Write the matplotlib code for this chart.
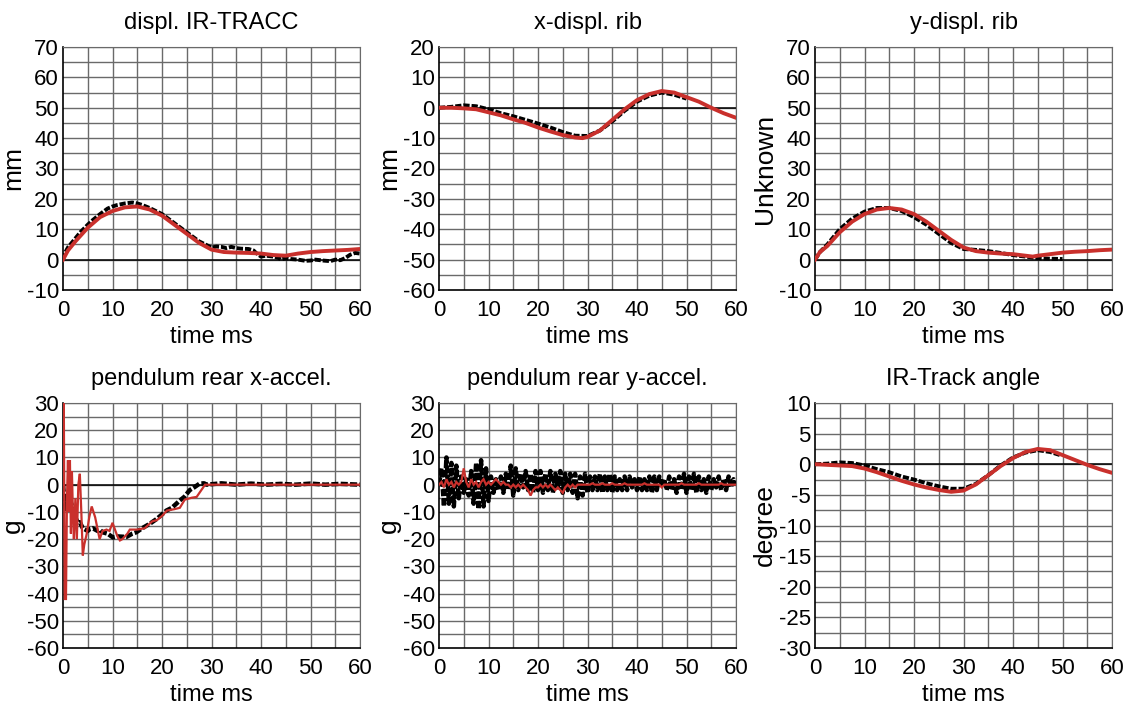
import matplotlib
matplotlib.use("Agg")
import matplotlib.pyplot as plt
import numpy as np

plt.rcParams['font.family'] = ['Liberation Sans', 'DejaVu Sans']
plt.rcParams['axes.unicode_minus'] = False

RED = '#c9302c'
BLACK = '#000000'

# ---------------- data ----------------
# Panel 1: displ. IR-TRACC (mm)
p1_test_t = [0, 0.5, 1, 1.5, 2.5, 3.5, 5, 6, 7.5, 9, 10, 11, 12.5, 14, 15, 16, 17.5, 19, 20, 21, 22.5, 24, 25, 26, 27.5, 29, 30, 31, 32, 33, 34, 35, 36, 37.5, 38.5, 39, 40, 41, 42.5, 43.5, 44, 45, 46, 47.5, 49, 50, 51, 52.5, 54, 55, 56, 57, 58, 59, 60]
p1_test_y = [0, 2.5, 4, 5, 7, 9, 11.5, 13, 15, 16.8, 17.5, 18, 18.5, 18.8, 18.5, 18, 17, 15.8, 15, 13.8, 12, 10.2, 9, 7.8, 6, 4.8, 4, 4.3, 4.2, 3.8, 4.2, 3.8, 3.6, 3.5, 3, 2.2, 1, 1.3, 1, 0.6, 0, 0.5, 0.2, 0, -0.4, -0.3, 0, -0.3, -0.5, 0, -0.2, 0.5, 1.6, 2.2, 2]
p1_sim_t = [0, 1, 2.5, 5, 7.5, 10, 12.5, 15, 17.5, 20, 22.5, 25, 27.5, 30, 32.5, 35, 37.5, 40, 42.5, 45, 47.5, 50, 52.5, 55, 57.5, 60]
p1_sim_y = [0, 3, 6, 10.5, 14, 16, 17.2, 17.5, 16.5, 14.5, 11.5, 8.5, 5.5, 3.3, 2.5, 2.3, 2.2, 2, 1.5, 1.3, 2, 2.5, 2.8, 3.0, 3.2, 3.5]

# Panel 2: x-displ. rib (mm)
p2_test_t = [0, 2.5, 5, 7.5, 10, 12.5, 15, 17.5, 20, 22.5, 25, 27.5, 30, 32.5, 35, 37.5, 40, 42.5, 45, 47.5, 50]
p2_test_y = [0, 0.3, 0.8, 0.5, -0.5, -1.8, -2.8, -4, -5.2, -6.5, -8, -9.2, -9.3, -7.5, -4.5, -1, 2, 4, 5, 4.3, 3.0]
p2_sim_t = [0, 2.5, 5, 7.5, 10, 12.5, 15, 17.5, 20, 22.5, 25, 27.5, 29, 30, 32.5, 35, 37.5, 40, 42.5, 45, 47.5, 50, 52.5, 55, 57.5, 60]
p2_sim_y = [0, 0, -0.2, -0.5, -1.5, -2.5, -3.8, -5, -6.5, -7.8, -9, -9.8, -10, -9.6, -7.5, -4, -0.5, 2.5, 4.5, 5.5, 5, 3.5, 2, 0, -1.8, -3.3]

# Panel 3: y-displ. rib (Unknown)
p3_test_t = [0, 1, 2.5, 5, 7.5, 10, 12.5, 15, 17.5, 20, 22.5, 25, 27.5, 30, 32.5, 35, 37.5, 40, 42.5, 45, 47.5, 50]
p3_test_y = [0, 2.5, 5, 10, 13.5, 15.8, 17, 17, 16, 14, 11.5, 8.5, 5.5, 3.5, 3.2, 2.8, 2.2, 1.5, 1, 0.5, 0.3, 0.2]
p3_sim_t = [0, 1, 2.5, 5, 7.5, 10, 12.5, 15, 17.5, 20, 22.5, 25, 27.5, 30, 32.5, 35, 37.5, 40, 42.5, 44, 45, 47.5, 50, 52.5, 55, 57.5, 60]
p3_sim_y = [0, 2.5, 4.5, 9, 12.5, 15, 16.5, 17, 16.5, 15, 12.5, 9.5, 6.5, 4, 2.8, 2.3, 2, 1.8, 1.3, 1, 1.3, 1.8, 2.3, 2.6, 2.8, 3.1, 3.3]

# Panel 4: pendulum rear x-accel. (g)
p4_test_t = [0, 0.3, 0.6, 1, 1.3, 1.7, 2, 2.5, 3, 3.4, 4, 5, 5.4, 6, 7, 7.4, 8, 9, 10.1, 11, 12.8, 14, 14.8, 16, 17.5, 19, 20.9, 22, 23.6, 24.5, 25.6, 26.5, 27.6, 28.5, 29, 32, 35, 38, 41, 44, 47, 50, 53, 56, 60]
p4_test_y = [0, -6, -9, -5, -9, -7, -11, -12, -14, -13.8, -16, -17, -16.3, -16, -17, -16.5, -17.5, -18, -19.4, -19, -19.2, -18, -17.5, -16, -14.4, -12.5, -9.5, -8.5, -5.8, -4.5, -2, -1, 0.4, 0.5, 0, 0.5, 0, 0.4, 0, 0.3, 0, 0.4, 0, 0.3, 0]
p4_sim_t = [0, 0.15, 0.35, 0.6, 0.8, 1.0, 1.2, 1.4, 1.6, 1.8, 2.0, 2.2, 2.5, 2.8, 3.1, 3.4, 3.7, 4.0, 4.3, 4.8, 5.3, 5.8, 6.5, 7.4, 8, 8.8, 9.4, 10, 11, 11.5, 12, 13, 13.5, 15, 16.5, 18, 19, 20, 21, 22.5, 23.6, 24.6, 26, 27, 28.7, 30, 40, 50, 60]
p4_sim_y = [0, 35, -42, -42, -5, 9, -10, 9, -18, 5, -10, -20, -5, -20, 0, 4, -10, -26, -22, -18, -12, -8, -12, -20, -17, -16.5, -17, -14, -19, -20.5, -20, -18, -16.5, -16.5, -16, -13.5, -13, -11.5, -9.5, -9, -8.5, -5.5, -4.8, -4.5, 0, 0, 0, 0, 0]

# Panel 5: pendulum rear y-accel. (g), sampled every 0.5 ms
p5_t = [i * 0.5 for i in range(121)]
p5_test_y = [0, 6, -8, 10, -7, 8, -8, 7, -5, 3, -3, 2, -4, 5, -7, 8, -9, 9, -8, 6,
             -6, 3, -3, 2, -2, 3, -3, 4, -2, 7, -4, 6, -2, 4, -1, 5, -2, 4, -3, 5,
             -2, 5, -3, 4, -2, 5, -3, 4, -1, 5, -3, 4, -2, 4, -3, 4, -5, 3, -4, 4,
             -3, 3, -2, 3, -2, 4, -3, 3, -2, 4, -3, 3, -2, 2, -2, 3, -2, 3, -1, 2,
             -2, 3, -2, 2, -2, 3, -3, 3, -2, 3, -1, 2, -2, 3, -2, 2, -3, 3, -2, 4,
             -3, 3, -2, 4, -3, 3, -2, 2, -3, 3, -2, 2, -1, 3, -2, 2, -2, 3, -1, 2, 0]
p5_sim_y = [0, 1, -1, 2, 0, 1, -1, 1, 0, 1, 6, 1, -1, 2, 0, 1, -1, 1, 2, 0,
            1, 0, 1, 2, 1, 0, 1, 0, 0, -1, 0, -1, 0, -1, 0, -1, -2, -4, -2, -1,
            -1, 0, -1, 0, -1, 0, -1, -2, -1, -2, -3, -1, 0, -1, 0, -1, 0, 0, 0, 0,
            0, 0, 0.5, 0, 0, 0, 0.5, 0, 0, 0, 0.5, 0, 0, 0, 0, 0.5, 0, 0, 0, 0,
            0, 0, 0, 0.5, 0, 0, 0, 0, 0, 0, -1, 0, 0, 0, 0, 0, 0, 0, 0.5, 0,
            0, 0, 0, 0, 0, 0.5, 0, 0, 0, 0, 0, 0, 0, 0, 0.5, 0, 0, 0, 0, 0, 0]

# Panel 6: IR-Track angle (degree)
p6_test_t = [0, 2.5, 5, 7.5, 10, 12.5, 15, 17.5, 20, 22.5, 25, 27.5, 30, 32.5, 35, 37.5, 40, 42.5, 45, 47.5, 49.5]
p6_test_y = [0, 0.1, 0.3, 0.2, -0.2, -0.8, -1.3, -2, -2.5, -3.1, -3.6, -4, -4, -3.2, -1.8, -0.2, 1.1, 1.9, 2.3, 2.0, 1.5]
p6_sim_t = [0, 2.5, 5, 7.5, 10, 12.5, 15, 17.5, 20, 22.5, 25, 27.5, 30, 32.5, 35, 37.5, 40, 42.5, 45, 47.5, 50, 52.5, 55, 57.5, 60]
p6_sim_y = [0, -0.1, -0.2, -0.3, -0.7, -1.3, -2, -2.7, -3.3, -3.8, -4.2, -4.5, -4.3, -3.3, -1.8, -0.3, 1, 2, 2.5, 2.3, 1.5, 0.7, -0.1, -0.8, -1.4]

titles = ['displ. IR-TRACC', 'x-displ. rib', 'y-displ. rib',
          'pendulum rear x-accel.', 'pendulum rear y-accel.', 'IR-Track angle']
ylabels = ['mm', 'mm', 'Unknown', 'g', 'g', 'degree']
ylims = [(-10, 70), (-60, 20), (-10, 70), (-60, 30), (-60, 30), (-30, 10)]
ymajor = [10, 10, 10, 10, 10, 5]
yminor = [5, 5, 5, 5, 5, 2.5]

series = [
    (p1_test_t, p1_test_y, p1_sim_t, p1_sim_y, 2.8),
    (p2_test_t, p2_test_y, p2_sim_t, p2_sim_y, 2.8),
    (p3_test_t, p3_test_y, p3_sim_t, p3_sim_y, 2.8),
    (p4_test_t, p4_test_y, p4_sim_t, p4_sim_y, 1.6),
    (p5_t, p5_test_y, p5_t, p5_sim_y, 1.6),
    (p6_test_t, p6_test_y, p6_sim_t, p6_sim_y, 2.8),
]

W, H = 1129, 711
fig = plt.figure(figsize=(W / 100, H / 100), dpi=100)

lefts = [63, 439, 815]
rows = [(47, 290), (403, 648)]

for i in range(6):
    r, c = divmod(i, 3)
    top, bot = rows[r]
    ax = fig.add_axes([lefts[c] / W, 1 - bot / H, 297 / W, (bot - top) / H])
    lo, hi = ylims[i]
    ax.set_xlim(0, 60)
    ax.set_ylim(lo, hi)
    # grid
    for gx in np.arange(5, 60.1, 5):
        ax.axvline(gx, color='#6a6a6a', lw=1.0, zorder=1)
    for gy in np.arange(lo + yminor[i], hi + 0.01, yminor[i]):
        ax.axhline(gy, color='#6a6a6a', lw=1.0, zorder=1)
    ax.axhline(0, color='black', lw=1.1, zorder=2)

    tt, ty, st, sy, slw = series[i]
    lw_test = 3.2 if i in (3, 4) else 2.8
    ax.plot(tt, ty, color=BLACK, lw=lw_test, linestyle=(0, (1.6, 0.5)), zorder=3)
    ax.plot(st, sy, color=RED, lw=slw, zorder=4, solid_joinstyle='miter')

    ax.set_xticks(np.arange(0, 61, 10))
    ax.set_yticks(np.arange(lo, hi + 0.01, ymajor[i]))
    ax.set_yticklabels([f'{v:g}' for v in np.arange(lo, hi + 0.01, ymajor[i])])
    ax.tick_params(length=0, labelsize=16, pad=3)
    ax.tick_params(axis='x', pad=7)
    for s in ['top', 'right']:
        ax.spines[s].set_color('#6a6a6a')
    for s in ['left', 'bottom']:
        ax.spines[s].set_color('black')
        ax.spines[s].set_linewidth(1.2)
    ax.set_title(titles[i], fontsize=17, pad=13)
    ax.set_xlabel('time ms', fontsize=17, labelpad=4)
    ax.set_ylabel(ylabels[i], fontsize=19, labelpad=1)

fig.savefig('out.png', dpi=100)
